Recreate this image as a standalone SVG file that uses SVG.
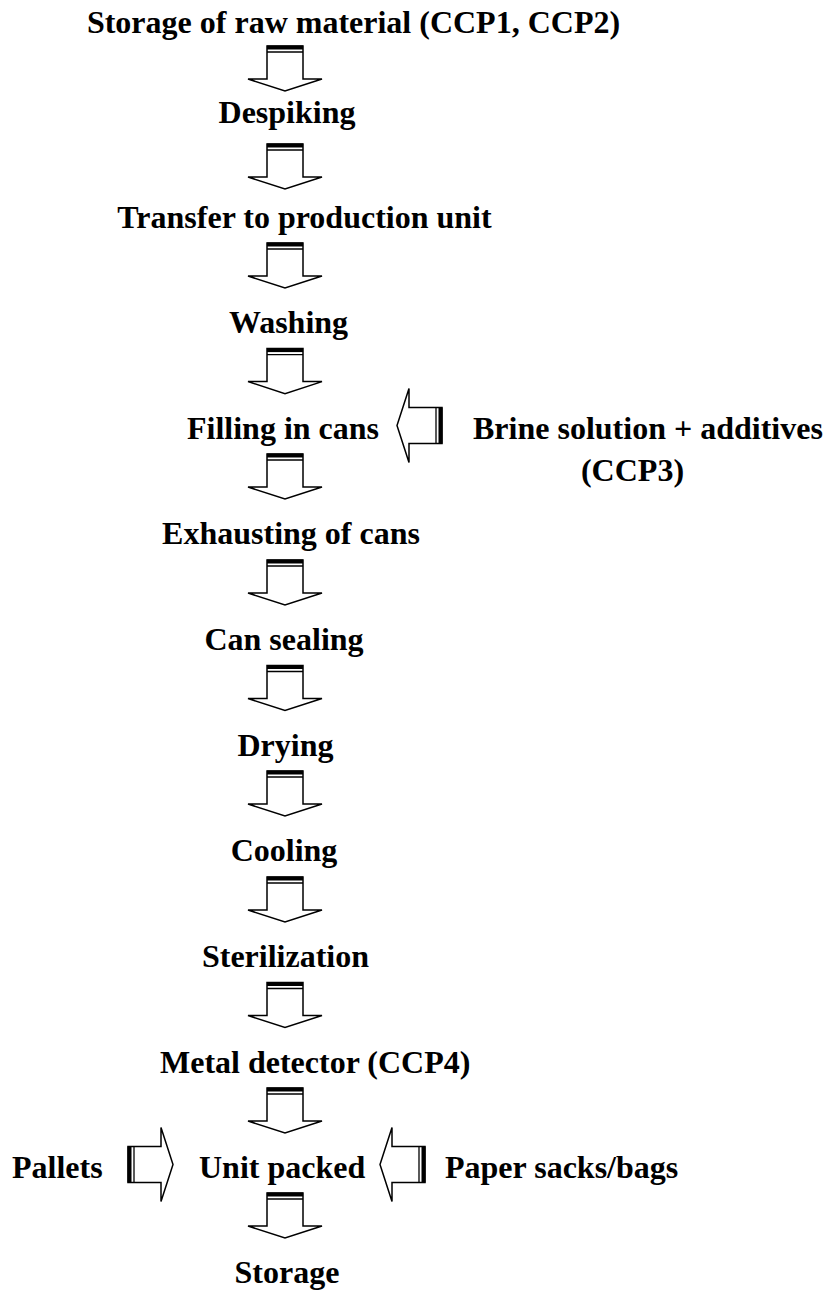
<svg xmlns="http://www.w3.org/2000/svg" xmlns:xlink="http://www.w3.org/1999/xlink" width="833" height="1291" viewBox="0 0 833 1291">
  <style>
    .lbl { font-family: "Liberation Serif", "Times New Roman", serif; font-weight: bold; font-size: 32px; fill: #000; }
    .mid { text-anchor: middle; }
    .body { fill: #fff; stroke: #000; stroke-width: 1.5; stroke-linejoin: miter; }
    .bar { fill: #000; }
    .thin { stroke: #000; stroke-width: 1.3; fill: none; }
  </style>
  <defs>
    <!-- Block arrow pointing down; origin at the middle of the tail bar -->
    <g id="blockArrow">
      <polygon class="body" points="-18,0 18,0 18,33 37,33 0,45 -37,33 -18,33"/>
      <rect class="bar" x="-18" y="-0.5" width="36" height="4"/>
      <line class="thin" x1="-18" y1="6" x2="18" y2="6"/>
    </g>
  </defs>
  <rect width="833" height="1291" fill="#fff"/>

  <!-- process steps -->
  <g id="n-storage-raw"><text class="lbl mid" x="353.5" y="33">Storage of raw material (CCP1, CCP2)</text></g>
  <g id="n-despiking"><text class="lbl mid" x="287" y="123">Despiking</text></g>
  <g id="n-transfer"><text class="lbl mid" x="304.5" y="228">Transfer to production unit</text></g>
  <g id="n-washing"><text class="lbl mid" x="288.5" y="333">Washing</text></g>
  <g id="n-filling"><text class="lbl mid" x="283" y="438.6">Filling in cans</text></g>
  <g id="n-brine">
    <text class="lbl" x="473" y="438.6">Brine solution + additives</text>
    <text class="lbl mid" x="632.5" y="481">(CCP3)</text>
  </g>
  <g id="n-exhausting"><text class="lbl mid" x="291" y="544">Exhausting of cans</text></g>
  <g id="n-sealing"><text class="lbl mid" x="284" y="650">Can sealing</text></g>
  <g id="n-drying"><text class="lbl mid" x="285.5" y="755.5">Drying</text></g>
  <g id="n-cooling"><text class="lbl mid" x="284" y="861">Cooling</text></g>
  <g id="n-sterilization"><text class="lbl mid" x="285.5" y="967">Sterilization</text></g>
  <g id="n-metal"><text class="lbl" x="160" y="1072.5">Metal detector (CCP4)</text></g>
  <g id="n-unit"><text class="lbl" x="199" y="1178">Unit packed</text></g>
  <g id="n-pallets"><text class="lbl" x="12" y="1178">Pallets</text></g>
  <g id="n-paper"><text class="lbl" x="445" y="1178">Paper sacks/bags</text></g>
  <g id="n-storage"><text class="lbl" x="234.5" y="1283">Storage</text></g>

  <!-- connectors -->
  <g id="connectors">
    <use xlink:href="#blockArrow" transform="translate(285,46)"/>
    <use xlink:href="#blockArrow" transform="translate(285,144)"/>
    <use xlink:href="#blockArrow" transform="translate(285,243)"/>
    <use xlink:href="#blockArrow" transform="translate(285,348.6)"/>
    <use xlink:href="#blockArrow" transform="translate(285,454)"/>
    <use xlink:href="#blockArrow" transform="translate(285,560)"/>
    <use xlink:href="#blockArrow" transform="translate(285,665.5)"/>
    <use xlink:href="#blockArrow" transform="translate(285,771)"/>
    <use xlink:href="#blockArrow" transform="translate(285,877)"/>
    <use xlink:href="#blockArrow" transform="translate(285,982.5)"/>
    <use xlink:href="#blockArrow" transform="translate(285,1088)"/>
    <use xlink:href="#blockArrow" transform="translate(285,1193)"/>
    <!-- side inputs -->
    <use xlink:href="#blockArrow" transform="translate(442,425.6) rotate(90)"/>
    <use xlink:href="#blockArrow" transform="translate(128,1164.5) rotate(-90)"/>
    <use xlink:href="#blockArrow" transform="translate(425,1164.5) rotate(90)"/>
  </g>
</svg>
